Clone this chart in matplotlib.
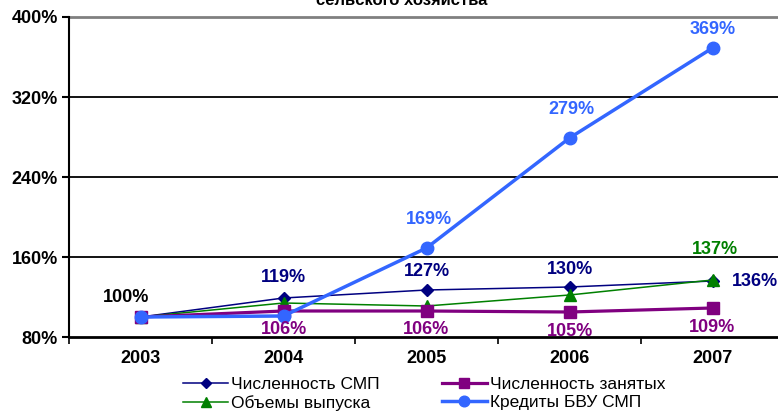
import numpy as np
import matplotlib.pyplot as plt

plt.rcParams['font.family'] = ['Liberation Sans', 'DejaVu Sans']

years = ['2003', '2004', '2005', '2006', '2007']
smp_count = [100, 119, 127, 130, 136]
output_vol = [100, 114, 111, 122, 137]
employed = [100, 106, 106, 105, 109]
credits = [100, 101, 169, 279, 369]

c_smp = '#000080'
c_out = '#008000'
c_emp = '#800080'
c_cred = '#3366ff'

x = np.arange(len(years))

fig = plt.figure(figsize=(7.78, 4.11), dpi=100)
ax = fig.add_axes([69 / 778, 74 / 411, 715 / 778, 320 / 411])

ax.plot(x, smp_count, color=c_smp, lw=1.1, marker='D', ms=6, label='Численность СМП', zorder=3)
ax.plot(x, output_vol, color=c_out, lw=1.1, marker='^', ms=8, label='Объемы выпуска', zorder=4)
ax.plot(x, employed, color=c_emp, lw=2.3, marker='s', ms=9, label='Численность занятых', zorder=5)
ax.plot(x, credits, color=c_cred, lw=2.5, marker='o', ms=9, label='Кредиты БВУ СМП', zorder=6)

ax.set_xlim(-0.5, 4.5)
ax.set_ylim(80, 400)
ax.set_yticks([80, 160, 240, 320, 400])
ax.set_yticklabels([f'{v}%' for v in [80, 160, 240, 320, 400]],
                   fontsize=13, fontweight='bold')
ax.set_xticks(x)
ax.set_xticklabels(years, fontsize=13, fontweight='bold')
ax.set_xticks(np.arange(-0.5, 5.0, 1), minor=True)
ax.tick_params(axis='x', which='major', length=0, pad=9)
ax.tick_params(axis='x', which='minor', length=5, width=1.2, direction='out')
ax.tick_params(axis='y', length=5, width=1.5, direction='out', pad=3)

for v in [160, 240, 320]:
    ax.axhline(v, color='black', lw=1.3, zorder=1)
ax.axhline(400, color='#808080', lw=2, zorder=1, clip_on=False)

for s in ['top', 'right']:
    ax.spines[s].set_visible(False)
ax.spines['left'].set_linewidth(1.5)
ax.spines['bottom'].set_linewidth(2)

def lab(i, vals, dx, dy, color):
    ax.annotate(f'{vals[i]}%', (x[i], vals[i]), xytext=(dx, dy),
                textcoords='offset pixels', ha='center', va='center',
                fontsize=13, fontweight='bold', color=color, zorder=10)

lab(0, smp_count, -14, 20, 'black')
lab(1, smp_count, 0, 20, c_smp)
lab(2, smp_count, 0, 18, c_smp)
lab(3, smp_count, 0, 18, c_smp)
lab(4, smp_count, 42, 0, c_smp)
for i in range(1, 5):
    lab(i, employed, 0, -19, c_emp)
lab(4, output_vol, 2, 31, c_out)
lab(2, credits, 2, 29, c_cred)
lab(3, credits, 2, 29, c_cred)
lab(4, credits, 0, 19, c_cred)

ax.legend(ncol=2, loc='upper center', bbox_to_anchor=(355 / 715, -0.124),
          frameon=False, fontsize=12.5, handlelength=2.6, handletextpad=0.15,
          columnspacing=3.6, labelspacing=0.2, borderaxespad=0, borderpad=0,
          markerscale=0.85)

fig.text(402 / 778, 1 - 5 / 411, 'сельского хозяйства', ha='center', va='baseline',
         fontsize=12, fontweight='bold')

fig.savefig('out.png', dpi=100)
